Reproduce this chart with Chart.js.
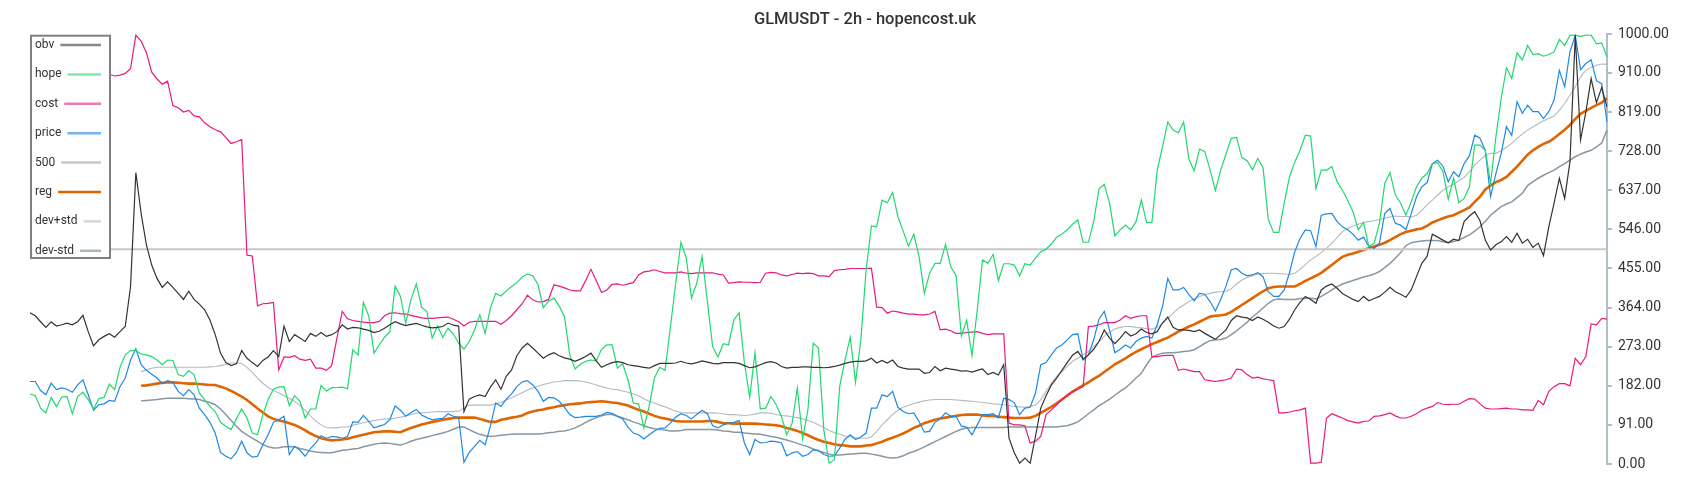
<!DOCTYPE html>
<html>
<head>
<meta charset="utf-8">
<title>GLMUSDT - 2h - hopencost.uk</title>
<script src="https://cdn.jsdelivr.net/npm/chart.js@4.4.1/dist/chart.umd.min.js"></script>
<style>
  html, body { margin: 0; padding: 0; background: #fff; }
  #wrap { width: 1700px; height: 500px; position: relative; }
</style>
</head>
<body>
<div id="wrap"><canvas id="hopeChart"></canvas></div>
<script>
// values, one per 2h candle
const obv = [352,345,331,318,331,321,324,328,324,331,346,308,275,289,297,303,295,308,320,413,678,583,510,463,432,411,424,411,397,383,402,383,372,359,335,301,258,236,229,233,264,246,236,227,241,249,264,250,321,285,301,293,285,304,297,306,297,301,308,324,
  314,318,317,314,311,306,309,316,324,331,326,322,325,327,323,319,317,318,320,328,323,321,122,151,157,161,157,179,196,174,204,219,252,270,281,270,258,246,254,259,252,247,244,239,244,250,258,240,225,231,236,238,236,231,229,227,225,223,229,234,
  234,234,235,239,235,233,236,240,237,234,233,236,236,236,234,229,224,226,231,236,238,235,227,223,225,225,226,226,225,225,224,225,227,230,234,237,239,239,240,246,235,241,235,242,227,223,221,221,221,211,213,227,217,223,221,219,216,217,214,218,
  221,208,213,207,231,60,26,2,14,2,64,130,159,184,200,218,236,253,262,244,254,267,285,312,293,280,293,308,298,303,314,306,303,308,328,342,318,312,312,311,308,312,304,297,290,301,312,334,345,342,340,334,342,337,330,321,316,320,337,
  359,376,390,383,374,405,414,419,409,397,390,383,378,390,380,385,390,400,411,401,395,388,405,436,467,483,535,528,521,515,523,520,564,577,587,566,521,498,510,517,529,516,537,514,523,504,514,485,552,607,665,618,703,998,754,819,897,841,876,831];

const hope = [163,159,130,119,155,134,156,157,117,157,167,150,128,152,155,186,173,225,254,264,264,256,254,250,242,231,242,241,208,204,217,208,165,150,134,122,97,88,80,105,128,107,72,68,115,150,174,179,180,136,159,146,107,128,128,183,170,177,178,179,
  175,266,254,376,345,258,277,295,308,414,390,328,383,419,365,355,293,321,295,316,303,281,267,285,312,347,304,363,397,391,403,413,422,435,442,438,417,364,379,386,368,343,254,221,232,239,242,240,267,277,277,223,233,196,142,140,84,134,200,225,
  218,317,419,516,480,386,421,483,378,273,249,280,277,335,352,235,155,259,128,130,157,138,111,68,94,177,58,126,281,270,80,2,10,180,242,295,190,289,452,554,552,614,608,632,576,542,507,535,483,397,444,467,467,511,459,438,298,335,252,359,
  475,467,488,427,466,466,463,438,466,463,479,494,500,512,528,535,545,558,568,516,516,564,640,651,607,531,545,556,545,564,614,562,562,684,738,796,777,771,796,709,682,733,727,684,637,684,721,758,760,713,706,685,711,690,569,539,539,607,668,
  703,730,765,763,641,684,684,692,657,637,614,587,545,562,506,514,560,653,678,626,607,579,610,645,665,676,699,701,680,616,665,608,618,645,742,742,730,653,761,851,922,897,957,940,974,953,955,949,953,959,988,974,998,998,995,998,998,978,980,947];

const cost = [905,902,906,910,908,904,907,911,909,905,903,906,910,908,905,907,903,905,909,920,998,984,957,912,896,884,891,834,829,819,823,810,808,794,785,778,773,760,746,750,755,486,484,368,373,374,376,219,249,248,252,244,241,244,223,223,218,229,293,355,
  338,334,332,330,329,329,332,345,351,352,350,349,346,343,340,339,339,340,341,342,337,331,321,330,332,332,332,332,332,325,334,345,359,373,393,382,377,378,383,417,414,410,405,403,403,427,453,427,399,405,418,419,416,419,422,440,447,449,452,448,
  445,445,445,447,444,443,445,445,445,445,442,440,421,422,424,423,423,422,423,444,446,445,440,438,441,444,443,444,443,438,438,436,450,452,453,455,455,455,455,456,365,364,351,356,354,351,349,349,347,347,349,355,312,314,310,304,304,306,307,308,
  304,301,303,303,303,95,91,91,89,49,53,64,115,126,138,150,161,169,174,180,320,321,324,329,329,329,335,345,339,343,345,345,250,250,252,253,253,218,221,218,215,215,196,194,192,194,196,200,221,219,208,200,202,198,196,194,119,119,121,
  124,126,130,2,2,4,107,117,112,107,101,98,95,99,100,111,112,115,119,112,107,107,111,117,125,130,134,143,139,138,139,139,146,152,151,140,130,128,128,129,130,128,128,126,126,125,148,138,169,180,187,187,182,246,231,250,326,324,339,337];

const price = [192,192,171,161,188,173,177,174,167,184,196,161,125,138,140,148,146,180,200,242,268,231,218,209,200,187,194,190,169,159,173,161,130,115,97,72,27,18,12,27,53,26,16,18,45,68,97,103,111,22,41,32,18,36,49,66,60,64,63,60,
  64,98,97,113,99,84,88,92,103,135,125,111,120,127,114,108,103,105,106,117,111,108,4,27,41,55,45,88,142,134,151,163,180,191,194,184,169,146,155,154,146,132,115,108,109,111,111,111,114,120,118,111,105,86,72,68,58,68,77,83,
  84,95,109,117,113,105,115,125,117,89,84,91,95,97,101,49,22,57,49,50,53,52,49,19,26,29,18,22,33,32,22,18,19,37,57,68,57,63,72,130,130,161,157,169,132,122,117,119,99,74,76,97,105,119,111,111,88,86,68,91,
  115,115,117,107,153,150,143,115,130,132,165,231,236,254,270,277,289,301,303,242,254,289,337,355,312,259,267,277,270,285,293,297,293,324,366,432,405,405,411,394,380,397,395,378,356,383,414,452,455,444,438,440,445,436,401,390,390,405,445,
  494,525,545,543,506,579,582,583,564,552,545,535,521,528,506,502,514,583,595,560,556,545,582,622,645,655,699,707,693,657,680,668,699,717,765,758,730,622,676,723,785,765,843,816,835,820,820,804,820,847,916,878,959,998,918,932,941,892,885,796];

const level500 = 500;

const reg = [null,null,null,null,null,null,null,null,null,null,null,null,null,null,null,null,null,null,null,null,null,
  182,183,185,187,189,190,190,189,188,187,187,186,185,184,184,180,176,170,164,157,149,139,129,120,111,105,101,99,95,91,85,78,71,65,60,57,55,56,57,
  59,62,65,68,71,74,75,76,76,75,74,79,84,88,92,95,98,100,103,105,107,108,108,108,108,105,101,98,98,103,105,108,110,113,119,122,125,127,130,132,135,137,139,140,141,143,144,145,146,145,143,142,139,136,131,126,122,117,112,108,
  106,103,100,99,99,99,99,99,100,100,98,95,95,94,94,94,94,94,93,92,91,90,88,84,81,77,72,67,61,56,52,49,46,44,43,41,41,41,43,44,48,52,57,61,66,71,77,84,89,95,99,103,106,108,110,112,114,115,115,115,
  113,112,112,110,109,108,107,107,107,108,112,119,126,133,141,150,159,168,176,183,190,198,205,214,223,232,239,246,254,261,267,273,279,284,289,294,301,308,314,320,325,331,337,343,345,346,348,354,362,370,378,386,394,402,409,412,413,413,413,
  413,419,426,432,438,445,454,463,473,482,487,490,494,498,502,506,510,515,521,528,535,540,543,546,548,554,562,567,572,576,579,585,591,597,610,622,639,648,656,661,668,680,692,706,720,730,738,745,750,758,768,778,789,803,815,822,829,835,841,851];

const devPlus = [null,null,null,null,null,null,null,null,null,null,null,null,null,null,null,null,null,null,null,null,null,
  215,219,223,225,225,225,225,225,225,225,225,225,225,226,227,229,232,235,235,234,225,213,200,188,178,171,165,159,153,146,136,125,112,100,91,85,84,84,86,
  86,90,93,96,99,101,103,105,105,107,109,112,115,118,119,120,121,122,122,122,122,123,130,137,137,137,137,137,140,143,149,154,160,166,172,177,181,185,188,191,192,194,194,194,193,191,188,184,180,177,174,173,170,167,163,159,152,146,142,137,
  133,128,123,120,119,119,119,119,119,119,118,117,115,115,114,113,114,116,119,119,118,115,113,112,110,108,105,101,97,91,85,78,73,69,65,63,61,60,60,63,76,91,103,115,125,132,136,141,144,147,149,150,150,150,150,149,148,147,146,145,
  143,142,140,139,138,136,134,133,132,134,137,150,169,188,204,215,227,239,246,254,262,273,285,297,307,314,318,320,320,318,317,315,314,318,328,339,351,362,370,378,384,390,394,397,400,401,402,408,419,428,434,438,442,443,444,444,443,442,441,
  444,453,464,475,483,492,502,514,527,541,548,554,558,562,564,566,569,572,575,577,576,576,575,579,590,603,614,626,637,645,651,659,667,680,696,707,718,723,723,729,737,746,758,768,777,785,792,799,804,810,823,839,858,878,901,916,923,928,931,930];

const devMinus = [null,null,null,null,null,null,null,null,null,null,null,null,null,null,null,null,null,null,null,null,null,
  147,148,149,150,152,153,153,153,153,152,151,150,146,143,138,128,115,101,88,76,68,60,53,45,40,37,38,40,41,40,36,33,30,28,27,26,26,29,32,
  33,35,36,40,43,46,48,49,48,46,44,48,53,57,60,63,66,69,72,76,81,86,86,80,74,69,66,64,65,67,68,69,70,70,70,70,70,71,73,74,76,77,80,84,90,97,103,108,112,115,115,111,107,103,98,94,89,85,82,80,
  79,77,77,78,80,80,80,80,80,80,79,77,76,74,74,72,71,70,69,67,64,62,59,56,52,48,44,40,35,30,27,23,21,21,22,23,24,25,25,23,21,18,15,14,15,19,25,29,34,40,46,52,58,64,70,76,81,84,85,85,
  85,85,85,85,85,86,86,86,86,86,86,86,86,86,86,88,89,93,98,107,117,126,136,143,151,160,169,177,188,200,211,231,248,254,258,259,259,260,262,263,266,273,281,287,289,290,293,301,310,320,330,342,352,363,374,382,384,383,383,
  383,385,386,386,384,390,397,405,413,419,423,427,431,435,438,442,448,457,467,479,492,508,515,517,519,520,520,520,517,515,518,521,527,533,542,552,565,579,589,599,605,610,620,630,648,657,665,672,678,684,692,699,707,715,721,726,730,738,747,777];

const tickLabels = ['0.00','91.00','182.00','273.00','364.00','455.00','546.00','637.00','728.00','819.00','910.00','1000.00'];

const candles = obv.map((_, i) => i);

Chart.defaults.font.family = 'Roboto';

// legend drawn as a framed box: name first, line sample after it
const boxLegend = {
  id: 'boxLegend',
  afterDraw(chart) {
    const ctx = chart.ctx;
    ctx.save();
    ctx.fillStyle = '#ffffff';
    ctx.fillRect(31, 35.7, 79, 222.3);
    ctx.strokeStyle = '#808080';
    ctx.lineWidth = 2;
    ctx.strokeRect(31, 35.7, 79, 222.3);
    ctx.font = '12px Roboto';
    ctx.textBaseline = 'middle';
    chart.data.datasets.forEach((ds, i) => {
      const cy = 45 + i * 29.4;
      ctx.fillStyle = '#333';
      ctx.fillText(ds.label, 35, cy);
      const tw = ctx.measureText(ds.label).width;
      ctx.strokeStyle = ds.legendColor;
      ctx.lineWidth = 2.5;
      ctx.beginPath();
      ctx.moveTo(35 + tw + 6, cy);
      ctx.lineTo(101, cy);
      ctx.stroke();
    });
    ctx.restore();
  }
};

const ctx = document.getElementById('hopeChart').getContext('2d');
new Chart(ctx, {
  type: 'line',
  data: {
    labels: candles,
    datasets: [
      { label: 'obv', data: obv, borderColor: '#333333', legendColor: '#8a8a8a', borderWidth: 1.2 },
      { label: 'hope', data: hope, borderColor: '#1fd86e', legendColor: '#7ee8a8', borderWidth: 1.2 },
      { label: 'cost', data: cost, borderColor: '#e8197f', legendColor: '#ef78b6', borderWidth: 1.2 },
      { label: 'price', data: price, borderColor: '#1e88e5', legendColor: '#76b4ec', borderWidth: 1.2 },
      { label: '500', data: candles.map(() => level500), borderColor: '#c8c8c8', legendColor: '#c8c8c8', borderWidth: 2 },
      { label: 'reg', data: reg, borderColor: '#e06500', legendColor: '#e06500', borderWidth: 2.6 },
      { label: 'dev+std', data: devPlus, borderColor: '#b2bac0', legendColor: '#d2d8dc', borderWidth: 1.1 },
      { label: 'dev-std', data: devMinus, borderColor: '#8797a3', legendColor: '#aab6be', borderWidth: 1.5 }
    ]
  },
  options: {
    responsive: true,
    maintainAspectRatio: false,
    animation: false,
    elements: { point: { radius: 0 }, line: { tension: 0 } },
    layout: { padding: { left: 30, right: 0, top: 0, bottom: 36 } },
    plugins: {
      legend: { display: false },
      tooltip: { enabled: false },
      title: {
        display: true,
        text: 'GLMUSDT - 2h - hopencost.uk',
        color: '#333',
        font: { size: 16.5, weight: 500 },
        padding: { top: 10, bottom: 4.5 }
      }
    },
    scales: {
      x: { display: false },
      y: {
        position: 'right',
        min: 0,
        max: 1000,
        afterBuildTicks: (axis) => { axis.ticks = tickLabels.map(t => ({ value: parseFloat(t) })); },
        afterFit: (axis) => { axis.width = 93; },
        ticks: {
          color: '#333',
          font: { size: 14 },
          padding: 6,
          callback: (v, i) => tickLabels[i]
        },
        grid: { drawOnChartArea: false, drawTicks: true, tickLength: 5, color: '#b0bec5', lineWidth: 2 },
        border: { display: true, color: '#b0bec5', width: 2 }
      }
    }
  },
  plugins: [boxLegend]
});
</script>
</body>
</html>
